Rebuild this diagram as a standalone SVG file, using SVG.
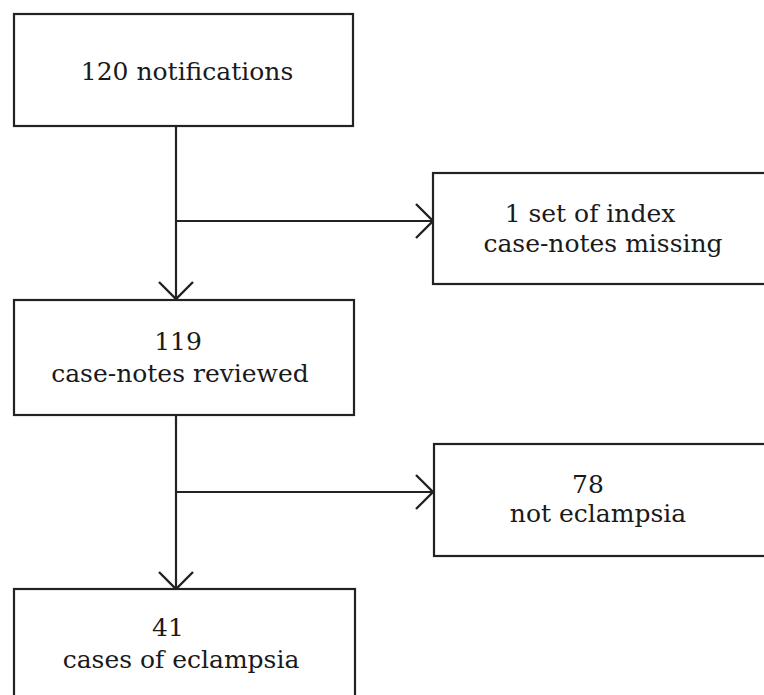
<svg xmlns="http://www.w3.org/2000/svg" width="764" height="695" viewBox="0 0 764 695">
<defs>
<style>
.box{fill:#fff;stroke:#222;stroke-width:2.2}
.ln{fill:none;stroke:#222;stroke-width:2.2}
.t{font-family:'DejaVu Serif',serif;font-size:25px;fill:#1a1a1a;text-anchor:middle}
</style>
<marker id="ah" viewBox="0 0 20 36" refX="18" refY="18" markerWidth="20" markerHeight="36" markerUnits="userSpaceOnUse" orient="auto">
<path d="M1,1 L18,18 L1,35" fill="none" stroke="#222" stroke-width="2.4"/>
</marker>
</defs>
<rect width="764" height="695" fill="#fff"/>
<g id="connectors">
<line class="ln" x1="176" y1="126" x2="176" y2="299" marker-end="url(#ah)"/>
<line class="ln" x1="176" y1="221" x2="433" y2="221" marker-end="url(#ah)"/>
<line class="ln" x1="176" y1="415" x2="176" y2="589" marker-end="url(#ah)"/>
<line class="ln" x1="176" y1="492" x2="433" y2="492" marker-end="url(#ah)"/>
</g>
<g id="n1">
<rect class="box" x="14" y="14" width="339" height="112"/>
<text class="t" x="187" y="80">120 notifications</text>
</g>
<g id="n2">
<rect class="box" x="433" y="173" width="340" height="111"/>
<text class="t" x="590" y="222">1 set of index</text>
<text class="t" x="603" y="252">case-notes missing</text>
</g>
<g id="n3">
<rect class="box" x="14" y="300" width="340" height="115"/>
<text class="t" x="178" y="350">119</text>
<text class="t" x="180" y="382">case-notes reviewed</text>
</g>
<g id="n4">
<rect class="box" x="434" y="444" width="340" height="112"/>
<text class="t" x="588" y="493">78</text>
<text class="t" x="598" y="522">not eclampsia</text>
</g>
<g id="n5">
<rect class="box" x="14" y="589" width="341" height="120"/>
<text class="t" x="168" y="636">41</text>
<text class="t" x="181" y="668">cases of eclampsia</text>
</g>
</svg>
